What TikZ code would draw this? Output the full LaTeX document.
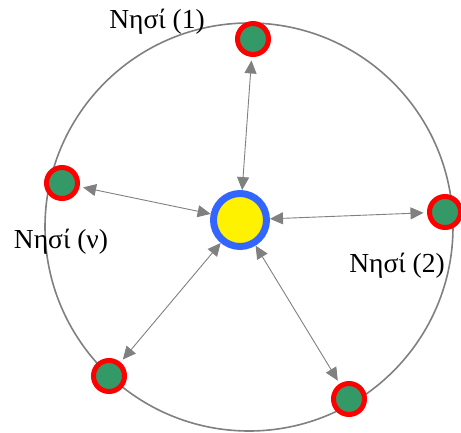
\documentclass[tikz,border=0pt]{standalone}
\usepackage{fontspec}
\setmainfont{Liberation Serif}
\usetikzlibrary{arrows.meta}
\definecolor{islegreen}{HTML}{339966}
\definecolor{ringblue}{HTML}{3366FF}
\definecolor{linegray}{HTML}{808080}
\begin{document}
\begin{tikzpicture}[x=1pt,y=-1pt,
  island/.style={circle,draw=red,fill=islegreen,line width=5pt,inner sep=0pt,minimum size=31pt,outer sep=6pt},
  sun/.style={circle,draw=ringblue,fill=yellow,line width=7pt,inner sep=0pt,minimum size=53pt,outer sep=3.5pt},
  link/.style={draw=linegray,line width=0.9pt,{Triangle[length=13pt,width=12pt,fill=linegray]}-{Triangle[length=13pt,width=12pt,fill=linegray]}},
  lbl/.style={font=\fontsize{27.5}{30}\selectfont,inner sep=0pt}]
\useasboundingbox (0,0) rectangle (461,432);
\node[draw=linegray,line width=1.6pt,circle,minimum size=408pt,inner sep=0pt] (ring) at (249,227) {};
\node[sun] (c) at (240,220) {};
\node[island] (n1) at (253,39) {};
\node[island] (n2) at (445,212) {};
\node[island] (n3) at (349,399) {};
\node[island] (n4) at (109,376) {};
\node[island] (n5) at (62,183) {};
\node[lbl] (l1) at (157,22) {Νησί (1)};
\node[lbl] (l2) at (397,266) {Νησί (2)};
\node[lbl] (l5) at (61,242) {Νησί (ν)};
\foreach \n in {n1,n2,n3,n4,n5} \path[link] (c) -- (\n);
\end{tikzpicture}
\end{document}
